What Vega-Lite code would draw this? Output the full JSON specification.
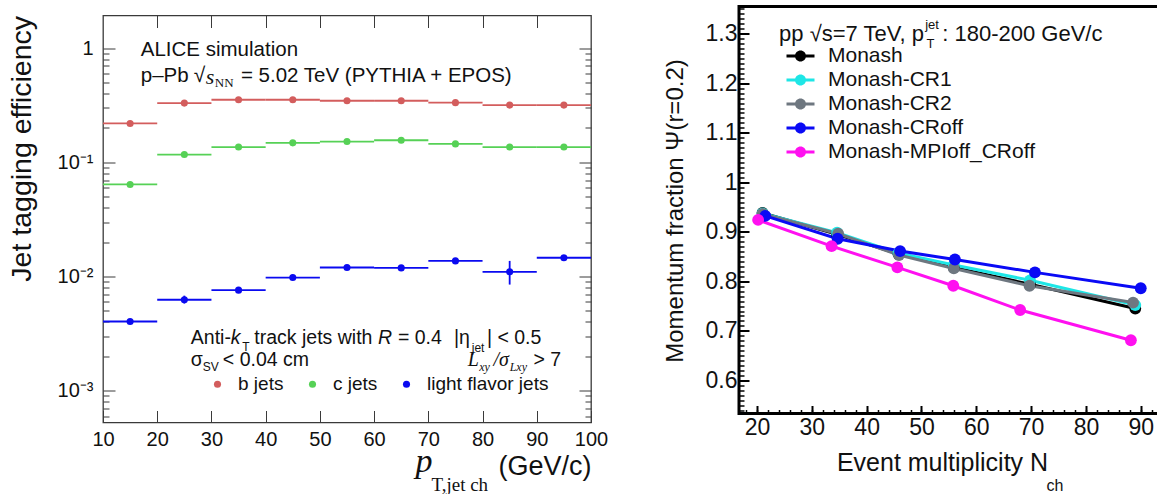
{
  "$schema": "https://vega.github.io/schema/vega-lite/v6.json",
  "background": "white",
  "padding": {"left": 6, "top": 4.5, "right": 0, "bottom": 0},
  "spacing": 52,
  "resolve": {"scale": {"color": "independent"}, "legend": {"color": "independent"}},
  "config": {
    "font": "Liberation Sans",
    "axis": {"grid": false, "domain": false, "labelOverlap": false, "labelFlush": false, "titleFontWeight": "normal", "labelColor": "#111", "titleColor": "#111", "labelFont": "Liberation Sans", "titleFont": "Liberation Sans"},
    "text": {"color": "#111", "font": "Liberation Sans", "baseline": "middle", "align": "left"}
  },
  "hconcat": [
    {"spacing": 6,
     "resolve": {"scale": {"color": "independent"}, "legend": {"color": "independent"}},
     "vconcat": [
    {
      "width": 488,
      "height": 1,
      "view": {"stroke": null},
      "data": {"values": [{"note": ""}]},
      "mark": {"type": "text", "fontSize": 0.1},
      "encoding": {"text": {"field": "note"}}
    },
    {
      "width": 488,
      "height": 407,
      "view": {"stroke": "#3a3a3a", "strokeWidth": 1.3},
      "data": {"values": [
        {"flavor": "b jets", "lo": 10, "hi": 20, "pt": 15, "eff": 0.219, "elo": 0.216, "ehi": 0.222},
        {"flavor": "b jets", "lo": 20, "hi": 30, "pt": 25, "eff": 0.330, "elo": 0.326, "ehi": 0.334},
        {"flavor": "b jets", "lo": 30, "hi": 40, "pt": 35, "eff": 0.353, "elo": 0.349, "ehi": 0.357},
        {"flavor": "b jets", "lo": 40, "hi": 50, "pt": 45, "eff": 0.353, "elo": 0.349, "ehi": 0.357},
        {"flavor": "b jets", "lo": 50, "hi": 60, "pt": 55, "eff": 0.346, "elo": 0.342, "ehi": 0.350},
        {"flavor": "b jets", "lo": 60, "hi": 70, "pt": 65, "eff": 0.346, "elo": 0.342, "ehi": 0.350},
        {"flavor": "b jets", "lo": 70, "hi": 80, "pt": 75, "eff": 0.333, "elo": 0.329, "ehi": 0.337},
        {"flavor": "b jets", "lo": 80, "hi": 90, "pt": 85, "eff": 0.317, "elo": 0.312, "ehi": 0.322},
        {"flavor": "b jets", "lo": 90, "hi": 100, "pt": 95, "eff": 0.317, "elo": 0.312, "ehi": 0.322},
        {"flavor": "c jets", "lo": 10, "hi": 20, "pt": 15, "eff": 0.064, "elo": 0.063, "ehi": 0.065},
        {"flavor": "c jets", "lo": 20, "hi": 30, "pt": 25, "eff": 0.117, "elo": 0.115, "ehi": 0.119},
        {"flavor": "c jets", "lo": 30, "hi": 40, "pt": 35, "eff": 0.136, "elo": 0.134, "ehi": 0.138},
        {"flavor": "c jets", "lo": 40, "hi": 50, "pt": 45, "eff": 0.148, "elo": 0.146, "ehi": 0.150},
        {"flavor": "c jets", "lo": 50, "hi": 60, "pt": 55, "eff": 0.152, "elo": 0.150, "ehi": 0.154},
        {"flavor": "c jets", "lo": 60, "hi": 70, "pt": 65, "eff": 0.156, "elo": 0.154, "ehi": 0.158},
        {"flavor": "c jets", "lo": 70, "hi": 80, "pt": 75, "eff": 0.145, "elo": 0.143, "ehi": 0.147},
        {"flavor": "c jets", "lo": 80, "hi": 90, "pt": 85, "eff": 0.136, "elo": 0.134, "ehi": 0.138},
        {"flavor": "c jets", "lo": 90, "hi": 100, "pt": 95, "eff": 0.136, "elo": 0.134, "ehi": 0.138},
        {"flavor": "light flavor jets", "lo": 10, "hi": 20, "pt": 15, "eff": 0.00404, "elo": 0.0039, "ehi": 0.0042},
        {"flavor": "light flavor jets", "lo": 20, "hi": 30, "pt": 25, "eff": 0.00626, "elo": 0.0058, "ehi": 0.0068},
        {"flavor": "light flavor jets", "lo": 30, "hi": 40, "pt": 35, "eff": 0.0076, "elo": 0.0073, "ehi": 0.0080},
        {"flavor": "light flavor jets", "lo": 40, "hi": 50, "pt": 45, "eff": 0.0098, "elo": 0.0094, "ehi": 0.0103},
        {"flavor": "light flavor jets", "lo": 50, "hi": 60, "pt": 55, "eff": 0.0120, "elo": 0.0115, "ehi": 0.0126},
        {"flavor": "light flavor jets", "lo": 60, "hi": 70, "pt": 65, "eff": 0.0119, "elo": 0.0112, "ehi": 0.0126},
        {"flavor": "light flavor jets", "lo": 70, "hi": 80, "pt": 75, "eff": 0.0137, "elo": 0.0131, "ehi": 0.0144},
        {"flavor": "light flavor jets", "lo": 80, "hi": 90, "pt": 85, "eff": 0.0110, "elo": 0.0085, "ehi": 0.0137},
        {"flavor": "light flavor jets", "lo": 90, "hi": 100, "pt": 95, "eff": 0.0146, "elo": 0.0140, "ehi": 0.0153}
      ]},
      "resolve": {"axis": {"x": "independent", "y": "independent"}},
      "layer": [
        {
          "mark": {"type": "rule", "strokeWidth": 1.8},
          "encoding": {
            "x": {"field": "lo", "type": "quantitative", "scale": {"domain": [10, 100], "nice": false, "zero": false},
              "axis": {"orient": "bottom", "values": [10, 20, 30, 40, 50, 60, 70, 80, 90, 100], "tickSize": -12, "tickColor": "#3a3a3a", "tickWidth": 1, "labelFontSize": 20, "labelPadding": 19, "title": "(GeV/c)", "titleFontSize": 27, "titleX": 488, "titleY": 44, "titleAlign": "right", "titleBaseline": "middle"}},
            "x2": {"field": "hi"},
            "y": {"field": "eff", "type": "quantitative", "scale": {"type": "log", "domain": [0.000527, 1.93], "nice": false},
              "axis": {"orient": "left", "values": [0.001, 0.01, 0.1, 1], "labelExpr": "datum.value > 0.5 ? '1' : datum.value > 0.05 ? '10⁻¹' : datum.value > 0.005 ? '10⁻²' : '10⁻³'", "tickSize": -12, "tickColor": "#3a3a3a", "tickWidth": 1, "labelFontSize": 20, "labelPadding": 22, "title": "Jet tagging efficiency", "titleFontSize": 28.5, "titleX": -82, "titleY": 0, "titleAngle": 270, "titleAlign": "right", "titleBaseline": "middle"}},
            "color": {"field": "flavor", "type": "nominal", "scale": {"domain": ["b jets", "c jets", "light flavor jets"], "range": ["#d35d5d", "#56d156", "#0a0af0"]}}
          }
        },
        {
          "mark": {"type": "rule", "strokeWidth": 1.8},
          "encoding": {
            "x": {"field": "pt", "type": "quantitative",
              "axis": {"orient": "top", "values": [20, 30, 40, 50, 60, 70, 80, 90], "tickSize": -12, "tickColor": "#3a3a3a", "tickWidth": 1, "labels": false, "title": null}},
            "y": {"field": "elo", "type": "quantitative",
              "axis": {"orient": "right", "values": [0.001, 0.01, 0.1, 1], "tickSize": -12, "tickColor": "#3a3a3a", "tickWidth": 1, "labels": false, "title": "p", "titleFont": "Liberation Serif", "titleFontStyle": "italic", "titleFontSize": 34, "titleAngle": 0, "titleX": -176, "titleY": 456, "titleAlign": "left", "titleBaseline": "alphabetic"}},
            "y2": {"field": "ehi"},
            "color": {"field": "flavor", "type": "nominal"}
          }
        },
        {
          "mark": {"type": "point", "filled": true, "size": 50, "opacity": 1},
          "encoding": {
            "x": {"field": "pt", "type": "quantitative", "axis": null},
            "y": {"field": "eff", "type": "quantitative",
              "axis": {"orient": "left", "values": [0.0006, 0.0007, 0.0008, 0.0009, 0.002, 0.003, 0.004, 0.005, 0.006, 0.007, 0.008, 0.009, 0.02, 0.03, 0.04, 0.05, 0.06, 0.07, 0.08, 0.09, 0.2, 0.3, 0.4, 0.5, 0.6, 0.7, 0.8, 0.9], "tickSize": -6, "tickColor": "#3a3a3a", "tickWidth": 1, "labels": false, "title": null}},
            "color": {"field": "flavor", "type": "nominal",
              "legend": {"orient": "none", "direction": "horizontal", "legendX": 105, "legendY": 359, "title": null, "padding": 0, "symbolType": "circle", "symbolSize": 50, "symbolStrokeWidth": 0, "labelFontSize": 19, "labelFont": "Liberation Sans", "labelColor": "#111", "labelOffset": 11, "columnPadding": 19, "labelLimit": 300}}
          }
        },
        {
          "data": {"values": [{"note": "ALICE simulation"}]},
          "mark": {"type": "text", "fontSize": 20.5},
          "encoding": {
            "text": {"field": "note"},
            "x": {"datum": 16.97, "type": "quantitative", "axis": null},
            "y": {"datum": 0.968, "type": "quantitative",
              "axis": {"orient": "right", "values": [0.0006, 0.0007, 0.0008, 0.0009, 0.002, 0.003, 0.004, 0.005, 0.006, 0.007, 0.008, 0.009, 0.02, 0.03, 0.04, 0.05, 0.06, 0.07, 0.08, 0.09, 0.2, 0.3, 0.4, 0.5, 0.6, 0.7, 0.8, 0.9], "tickSize": -6, "tickColor": "#3a3a3a", "tickWidth": 1, "labels": false, "title": "T,jet ch", "titleFont": "Liberation Serif", "titleFontSize": 19, "titleAngle": 0, "titleX": -160, "titleY": 475, "titleAlign": "left", "titleBaseline": "alphabetic"}}
          }
        },
        {"data": {"values": [{"note": "p–Pb"}]}, "mark": {"type": "text", "fontSize": 20.5},
          "encoding": {"text": {"field": "note"}, "x": {"datum": 16.97, "type": "quantitative", "axis": null}, "y": {"datum": 0.565, "type": "quantitative", "axis": null}}},
        {"data": {"values": [{"note": "√"}]}, "mark": {"type": "text", "fontSize": 21},
          "encoding": {"text": {"field": "note"}, "x": {"datum": 26.75, "type": "quantitative", "axis": null}, "y": {"datum": 0.565, "type": "quantitative", "axis": null}}},
        {"data": {"values": [{"note": "s"}]}, "mark": {"type": "text", "fontSize": 22, "font": "Liberation Serif", "fontStyle": "italic"},
          "encoding": {"text": {"field": "note"}, "x": {"datum": 28.97, "type": "quantitative", "axis": null}, "y": {"datum": 0.554, "type": "quantitative", "axis": null}}},
        {"data": {"values": [{"note": "NN"}]}, "mark": {"type": "text", "fontSize": 13, "font": "Liberation Serif"},
          "encoding": {"text": {"field": "note"}, "x": {"datum": 30.63, "type": "quantitative", "axis": null}, "y": {"datum": 0.491, "type": "quantitative", "axis": null}}},
        {"data": {"values": [{"note": "= 5.02 TeV (PYTHIA + EPOS)"}]}, "mark": {"type": "text", "fontSize": 20.5},
          "encoding": {"text": {"field": "note"}, "x": {"datum": 35.43, "type": "quantitative", "axis": null}, "y": {"datum": 0.565, "type": "quantitative", "axis": null}}},
        {"data": {"values": [{"note": "Anti-"}]}, "mark": {"type": "text", "fontSize": 19.5},
          "encoding": {"text": {"field": "note"}, "x": {"datum": 26.2, "type": "quantitative", "axis": null}, "y": {"datum": 0.00287, "type": "quantitative", "axis": null}}},
        {"data": {"values": [{"note": "k"}]}, "mark": {"type": "text", "fontSize": 19.5, "fontStyle": "italic"},
          "encoding": {"text": {"field": "note"}, "x": {"datum": 33.58, "type": "quantitative", "axis": null}, "y": {"datum": 0.00287, "type": "quantitative", "axis": null}}},
        {"data": {"values": [{"note": "T"}]}, "mark": {"type": "text", "fontSize": 12},
          "encoding": {"text": {"field": "note"}, "x": {"datum": 35.7, "type": "quantitative", "axis": null}, "y": {"datum": 0.00243, "type": "quantitative", "axis": null}}},
        {"data": {"values": [{"note": "track jets with"}]}, "mark": {"type": "text", "fontSize": 19.5},
          "encoding": {"text": {"field": "note"}, "x": {"datum": 37.9, "type": "quantitative", "axis": null}, "y": {"datum": 0.00287, "type": "quantitative", "axis": null}}},
        {"data": {"values": [{"note": "R"}]}, "mark": {"type": "text", "fontSize": 19.5, "fontStyle": "italic"},
          "encoding": {"text": {"field": "note"}, "x": {"datum": 60.7, "type": "quantitative", "axis": null}, "y": {"datum": 0.00287, "type": "quantitative", "axis": null}}},
        {"data": {"values": [{"note": "= 0.4"}]}, "mark": {"type": "text", "fontSize": 19.5},
          "encoding": {"text": {"field": "note"}, "x": {"datum": 64.39, "type": "quantitative", "axis": null}, "y": {"datum": 0.00287, "type": "quantitative", "axis": null}}},
        {"data": {"values": [{"note": "|η"}]}, "mark": {"type": "text", "fontSize": 19.5},
          "encoding": {"text": {"field": "note"}, "x": {"datum": 74.72, "type": "quantitative", "axis": null}, "y": {"datum": 0.00287, "type": "quantitative", "axis": null}}},
        {"data": {"values": [{"note": "jet"}]}, "mark": {"type": "text", "fontSize": 12},
          "encoding": {"text": {"field": "note"}, "x": {"datum": 78.0, "type": "quantitative", "axis": null}, "y": {"datum": 0.00236, "type": "quantitative", "axis": null}}},
        {"data": {"values": [{"note": "| < 0.5"}]}, "mark": {"type": "text", "fontSize": 19.5},
          "encoding": {"text": {"field": "note"}, "x": {"datum": 80.8, "type": "quantitative", "axis": null}, "y": {"datum": 0.00287, "type": "quantitative", "axis": null}}},
        {"data": {"values": [{"note": "σ"}]}, "mark": {"type": "text", "fontSize": 19.5},
          "encoding": {"text": {"field": "note"}, "x": {"datum": 26.2, "type": "quantitative", "axis": null}, "y": {"datum": 0.00184, "type": "quantitative", "axis": null}}},
        {"data": {"values": [{"note": "SV"}]}, "mark": {"type": "text", "fontSize": 12},
          "encoding": {"text": {"field": "note"}, "x": {"datum": 28.41, "type": "quantitative", "axis": null}, "y": {"datum": 0.0016, "type": "quantitative", "axis": null}}},
        {"data": {"values": [{"note": "< 0.04 cm"}]}, "mark": {"type": "text", "fontSize": 19.5},
          "encoding": {"text": {"field": "note"}, "x": {"datum": 32.1, "type": "quantitative", "axis": null}, "y": {"datum": 0.00184, "type": "quantitative", "axis": null}}},
        {"data": {"values": [{"note": "L"}]}, "mark": {"type": "text", "fontSize": 20, "font": "Liberation Serif", "fontStyle": "italic", "align": "right"},
          "encoding": {"text": {"field": "note"}, "x": {"datum": 79.34, "type": "quantitative", "axis": null}, "y": {"datum": 0.00184, "type": "quantitative", "axis": null}}},
        {"data": {"values": [{"note": "xy"}]}, "mark": {"type": "text", "fontSize": 12, "font": "Liberation Serif", "fontStyle": "italic", "align": "right"},
          "encoding": {"text": {"field": "note"}, "x": {"datum": 81.36, "type": "quantitative", "axis": null}, "y": {"datum": 0.0016, "type": "quantitative", "axis": null}}},
        {"data": {"values": [{"note": "/σ"}]}, "mark": {"type": "text", "fontSize": 20, "font": "Liberation Serif", "fontStyle": "italic", "align": "right"},
          "encoding": {"text": {"field": "note"}, "x": {"datum": 84.87, "type": "quantitative", "axis": null}, "y": {"datum": 0.00184, "type": "quantitative", "axis": null}}},
        {"data": {"values": [{"note": "Lxy"}]}, "mark": {"type": "text", "fontSize": 12, "font": "Liberation Serif", "fontStyle": "italic", "align": "right"},
          "encoding": {"text": {"field": "note"}, "x": {"datum": 88.19, "type": "quantitative", "axis": null}, "y": {"datum": 0.0016, "type": "quantitative", "axis": null}}},
        {"data": {"values": [{"note": "> 7"}]}, "mark": {"type": "text", "fontSize": 19.5, "align": "right"},
          "encoding": {"text": {"field": "note"}, "x": {"datum": 94.5, "type": "quantitative", "axis": null}, "y": {"datum": 0.00184, "type": "quantitative", "axis": null}}}
      ]
    }
    ]},
    {
      "width": 428,
      "height": 407,
      "view": {"stroke": "#000", "strokeWidth": 3},
      "data": {"values": [
        {"model": "Monash", "nch": 21, "psi": 0.938},
        {"model": "Monash", "nch": 34.6, "psi": 0.895},
        {"model": "Monash", "nch": 45.8, "psi": 0.855},
        {"model": "Monash", "nch": 55.9, "psi": 0.828},
        {"model": "Monash", "nch": 69.8, "psi": 0.794},
        {"model": "Monash", "nch": 89, "psi": 0.745},
        {"model": "Monash-CR1", "nch": 21, "psi": 0.937},
        {"model": "Monash-CR1", "nch": 34.6, "psi": 0.898},
        {"model": "Monash-CR1", "nch": 45.8, "psi": 0.857},
        {"model": "Monash-CR1", "nch": 55.9, "psi": 0.833},
        {"model": "Monash-CR1", "nch": 69.8, "psi": 0.802},
        {"model": "Monash-CR1", "nch": 89, "psi": 0.752},
        {"model": "Monash-CR2", "nch": 21, "psi": 0.936},
        {"model": "Monash-CR2", "nch": 34.8, "psi": 0.896},
        {"model": "Monash-CR2", "nch": 45.9, "psi": 0.853},
        {"model": "Monash-CR2", "nch": 55.9, "psi": 0.826},
        {"model": "Monash-CR2", "nch": 69.7, "psi": 0.791},
        {"model": "Monash-CR2", "nch": 88.6, "psi": 0.757},
        {"model": "Monash-CRoff", "nch": 21.5, "psi": 0.932},
        {"model": "Monash-CRoff", "nch": 34.7, "psi": 0.886},
        {"model": "Monash-CRoff", "nch": 46.1, "psi": 0.861},
        {"model": "Monash-CRoff", "nch": 56.1, "psi": 0.844},
        {"model": "Monash-CRoff", "nch": 70.7, "psi": 0.818},
        {"model": "Monash-CRoff", "nch": 90, "psi": 0.786},
        {"model": "Monash-MPIoff_CRoff", "nch": 20.2, "psi": 0.924},
        {"model": "Monash-MPIoff_CRoff", "nch": 33.6, "psi": 0.871},
        {"model": "Monash-MPIoff_CRoff", "nch": 45.6, "psi": 0.828},
        {"model": "Monash-MPIoff_CRoff", "nch": 55.8, "psi": 0.791},
        {"model": "Monash-MPIoff_CRoff", "nch": 68, "psi": 0.742},
        {"model": "Monash-MPIoff_CRoff", "nch": 88.2, "psi": 0.681}
      ]},
      "resolve": {"axis": {"x": "independent", "y": "independent"}},
      "layer": [
        {
          "mark": {"type": "line", "strokeWidth": 3},
          "encoding": {
            "x": {"field": "nch", "type": "quantitative", "scale": {"domain": [16.71, 94.79], "nice": false, "zero": false},
              "axis": {"orient": "bottom", "values": [20, 30, 40, 50, 60, 70, 80, 90], "tickSize": -8, "tickWidth": 2, "tickColor": "#000", "labelFontSize": 23, "labelPadding": 11, "title": "Event multiplicity N", "titleFontSize": 25, "titleX": 203, "titleY": 49, "titleAlign": "center", "titleBaseline": "middle"}},
            "y": {"field": "psi", "type": "quantitative", "scale": {"domain": [0.533, 1.355], "nice": false, "zero": false},
              "axis": {"orient": "left", "values": [0.6, 0.7, 0.8, 0.9, 1, 1.1, 1.2, 1.3], "format": "~g", "tickSize": -10, "tickWidth": 2, "tickColor": "#000", "labelFontSize": 23, "labelPadding": 12, "title": "Momentum fraction Ψ(r=0.2)", "titleFontSize": 24, "titleX": -64, "titleY": 204, "titleAngle": 270, "titleAlign": "center", "titleBaseline": "middle"}},
            "color": {"field": "model", "type": "nominal", "scale": {"domain": ["Monash", "Monash-CR1", "Monash-CR2", "Monash-CRoff", "Monash-MPIoff_CRoff"], "range": ["#000000", "#1ee6e6", "#6e7780", "#0a0af5", "#ff10f0"]}}
          }
        },
        {
          "mark": {"type": "point", "filled": true, "size": 140, "opacity": 1},
          "encoding": {
            "x": {"field": "nch", "type": "quantitative",
              "axis": {"orient": "bottom", "values": [18, 20, 22, 24, 26, 28, 30, 32, 34, 36, 38, 40, 42, 44, 46, 48, 50, 52, 54, 56, 58, 60, 62, 64, 66, 68, 70, 72, 74, 76, 78, 80, 82, 84, 86, 88, 90, 92, 94], "tickSize": -4, "tickWidth": 1.5, "tickColor": "#000", "labels": false, "title": "ch", "titleFontSize": 16, "titleX": 307, "titleY": 72, "titleAlign": "left", "titleBaseline": "middle"}},
            "y": {"field": "psi", "type": "quantitative",
              "axis": {"orient": "left", "values": [0.54, 0.55, 0.56, 0.57, 0.58, 0.59, 0.6, 0.61, 0.62, 0.63, 0.64, 0.65, 0.66, 0.67, 0.68, 0.69, 0.7, 0.71, 0.72, 0.73, 0.74, 0.75, 0.76, 0.77, 0.78, 0.79, 0.8, 0.81, 0.82, 0.83, 0.84, 0.85, 0.86, 0.87, 0.88, 0.89, 0.9, 0.91, 0.92, 0.93, 0.94, 0.95, 0.96, 0.97, 0.98, 0.99, 1, 1.01, 1.02, 1.03, 1.04, 1.05, 1.06, 1.07, 1.08, 1.09, 1.1, 1.11, 1.12, 1.13, 1.14, 1.15, 1.16, 1.17, 1.18, 1.19, 1.2, 1.21, 1.22, 1.23, 1.24, 1.25, 1.26, 1.27, 1.28, 1.29, 1.3, 1.31, 1.32, 1.33, 1.34, 1.35], "tickSize": -5, "tickWidth": 1.5, "tickColor": "#000", "labels": false, "title": null}},
            "color": {"field": "model", "type": "nominal",
              "legend": {"orient": "none", "legendX": 51, "legendY": 39, "direction": "vertical", "title": null, "padding": 0, "symbolType": "M -1.4 -0.14 L 1.4 -0.14 L 1.4 0.14 L -1.4 0.14 Z M 0.55 0 A 0.55 0.55 0 1 1 -0.55 0 A 0.55 0.55 0 1 1 0.55 0 Z", "symbolSize": 400, "symbolStrokeWidth": 0, "labelFontSize": 21, "labelFont": "Liberation Sans", "labelColor": "#111", "labelOffset": 17, "rowPadding": 2, "labelLimit": 400}}
          }
        },
        {"data": {"values": [{"note": "pp √s=7 TeV, p"}]}, "mark": {"type": "text", "fontSize": 22},
          "encoding": {"text": {"field": "note"}, "x": {"datum": 24.02, "type": "quantitative", "axis": null}, "y": {"datum": 1.299, "type": "quantitative", "axis": null}}},
        {"data": {"values": [{"note": "jet"}]}, "mark": {"type": "text", "fontSize": 13},
          "encoding": {"text": {"field": "note"}, "x": {"datum": 50.68, "type": "quantitative", "axis": null}, "y": {"datum": 1.317, "type": "quantitative", "axis": null}}},
        {"data": {"values": [{"note": "T"}]}, "mark": {"type": "text", "fontSize": 13},
          "encoding": {"text": {"field": "note"}, "x": {"datum": 50.9, "type": "quantitative", "axis": null}, "y": {"datum": 1.28, "type": "quantitative", "axis": null}}},
        {"data": {"values": [{"note": ": 180-200 GeV/c"}]}, "mark": {"type": "text", "fontSize": 22},
          "encoding": {"text": {"field": "note"}, "x": {"datum": 53.79, "type": "quantitative", "axis": null}, "y": {"datum": 1.299, "type": "quantitative", "axis": null}}}
      ]
    }
  ]
}
